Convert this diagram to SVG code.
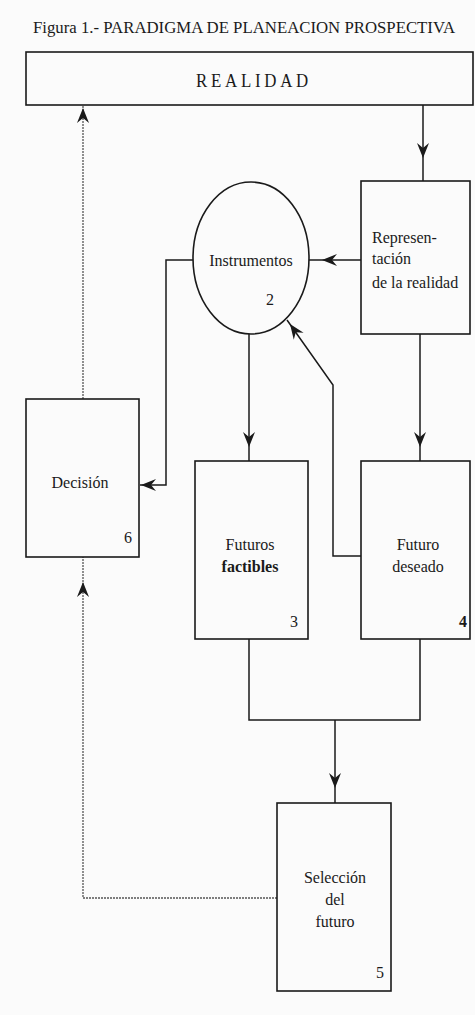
<svg xmlns="http://www.w3.org/2000/svg" xmlns:xlink="http://www.w3.org/1999/xlink" width="475" height="1015" viewBox="0 0 475 1015">
<style>
.box{fill:none;stroke:#1a1a1a;stroke-width:1.6}
.ln{fill:none;stroke:#1a1a1a;stroke-width:1.5}
.dot{fill:none;stroke:#555;stroke-width:1.3;stroke-dasharray:2 1}
.t{font-family:"Liberation Serif","Times New Roman",serif;font-size:16px;fill:#1a1a1a}
.c{text-anchor:middle}
.ah{fill:#1a1a1a}
</style>
<defs>
<path id="ah" d="M0,0 L-15,-6 L-10,0 L-15,6 Z"/>
</defs>
<rect x="0" y="0" width="475" height="1015" fill="#fbfbfb"/>
<text class="t" x="33" y="33" style="font-size:17px" textLength="422" lengthAdjust="spacingAndGlyphs">Figura 1.- PARADIGMA DE PLANEACION PROSPECTIVA</text>

<g id="connectors">
<line class="ln" x1="423" y1="105" x2="423" y2="181"/>
<use href="#ah" class="ah" transform="translate(423,158) rotate(90)"/>
<line class="ln" x1="361" y1="260" x2="309" y2="260"/>
<use href="#ah" class="ah" transform="translate(322,260) rotate(180)"/>
<path class="ln" d="M193,260 H166 V485 H140"/>
<use href="#ah" class="ah" transform="translate(141,485) rotate(180)"/>
<line class="ln" x1="249" y1="334" x2="249" y2="461"/>
<use href="#ah" class="ah" transform="translate(249,447) rotate(90)"/>
<line class="ln" x1="420" y1="334" x2="420" y2="461"/>
<use href="#ah" class="ah" transform="translate(420,447) rotate(90)"/>
<path class="ln" d="M361,556 H333 V385 L287,320"/>
<use href="#ah" class="ah" transform="translate(290,324) rotate(-125.3)"/>
<path class="ln" d="M249,639 V720 H420 V639"/>
<line class="ln" x1="335" y1="720" x2="335" y2="803"/>
<use href="#ah" class="ah" transform="translate(335,788) rotate(90)"/>
<path class="dot" d="M277,898 H83 V557"/>
<use href="#ah" class="ah" transform="translate(83,582) rotate(-90)"/>
<line class="dot" x1="83" y1="399" x2="83" y2="105"/>
<use href="#ah" class="ah" transform="translate(83,108) rotate(-90)"/>
</g>

<g id="realidad">
<rect class="box" x="26" y="52" width="447" height="53"/>
<text class="t c" x="254" y="87" style="font-size:18px;letter-spacing:4px" textLength="116" lengthAdjust="spacingAndGlyphs">REALIDAD</text>
</g>

<g id="instrumentos">
<ellipse class="box" cx="251" cy="258" rx="58" ry="76"/>
<text class="t c" x="251" y="266">Instrumentos</text>
<text class="t" x="266" y="305">2</text>
</g>

<g id="representacion">
<rect class="box" x="361" y="181" width="109" height="153"/>
<text class="t" x="372" y="243">Represen-</text>
<text class="t" x="372" y="264">tación</text>
<text class="t" x="372" y="288">de la realidad</text>
</g>

<g id="decision">
<rect class="box" x="26" y="399" width="113" height="158"/>
<text class="t c" x="80" y="488">Decisión</text>
<text class="t" x="124" y="543">6</text>
</g>

<g id="futuros-factibles">
<rect class="box" x="195" y="461" width="113" height="178"/>
<text class="t c" x="250" y="550">Futuros</text>
<text class="t c" x="250" y="572" font-weight="bold">factibles</text>
<text class="t" x="290" y="627">3</text>
</g>

<g id="futuro-deseado">
<rect class="box" x="361" y="461" width="109" height="178"/>
<text class="t c" x="418" y="550">Futuro</text>
<text class="t c" x="418" y="572">deseado</text>
<text class="t" x="459" y="627" font-weight="bold">4</text>
</g>

<g id="seleccion">
<rect class="box" x="277" y="803" width="114" height="188"/>
<text class="t c" x="335" y="883">Selección</text>
<text class="t c" x="335" y="905">del</text>
<text class="t c" x="335" y="927">futuro</text>
<text class="t" x="376" y="978">5</text>
</g>
</svg>
